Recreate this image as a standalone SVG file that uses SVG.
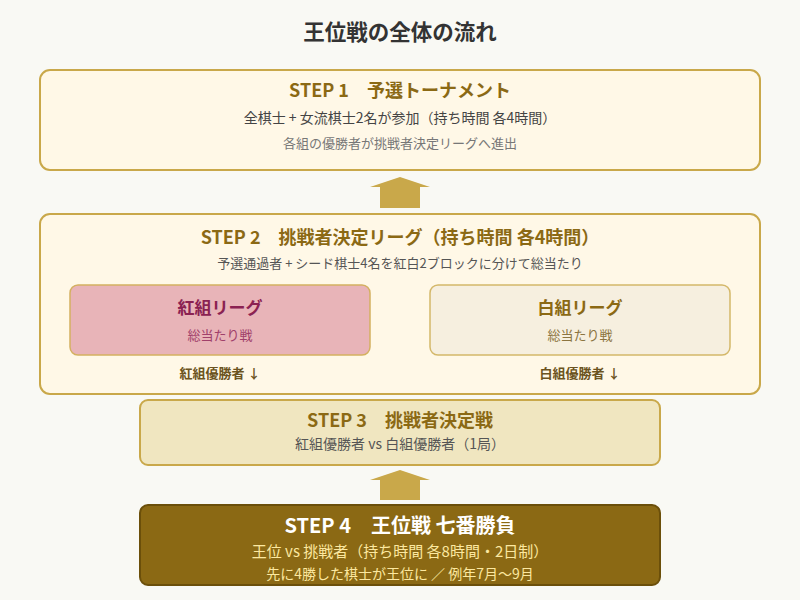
<svg xmlns="http://www.w3.org/2000/svg" width="800" height="600" viewBox="0 0 800 600">
<style>
text{font-family:"Noto Sans CJK JP","Noto Sans",sans-serif;text-anchor:middle}
.box{fill:#fff8e7;stroke:#c9a84a;stroke-width:2}
.st{font-size:18px;font-weight:bold;fill:#8b6914}
.sub{font-size:14px;fill:#444}
.note{font-size:13px;fill:#777}
.arrow{fill:#c9a84a}
</style>
<rect width="800" height="600" fill="#f9f9f4"/>
<text x="400" y="40" style="font-size:21.5px;font-weight:bold;fill:#333">王位戦の全体の流れ</text>
<g id="connectors">
<polygon class="arrow" points="400,177 430,187 420,187 420,208 380,208 380,187 370,187"/>
<polygon class="arrow" points="400,470 430,480 420,480 420,500 380,500 380,480 370,480"/>
</g>
<g id="step1">
<rect class="box" x="40" y="70" width="720" height="100" rx="10"/>
<text class="st" x="400" y="97">STEP 1　予選トーナメント</text>
<text class="sub" x="400" y="123">全棋士 + 女流棋士2名が参加（持ち時間 各4時間）</text>
<text class="note" x="400" y="147.5">各組の優勝者が挑戦者決定リーグへ進出</text>
</g>
<g id="step2">
<rect class="box" x="40" y="214" width="720" height="180" rx="10"/>
<text class="st" x="400" y="244">STEP 2　挑戦者決定リーグ（持ち時間 各4時間）</text>
<text class="note" x="400" y="268" style="fill:#555">予選通過者 + シード棋士4名を紅白2ブロックに分けて総当たり</text>
<text x="220" y="377.5" style="font-size:13px;font-weight:bold;fill:#6b5320">紅組優勝者 ↓</text>
<text x="580" y="377.5" style="font-size:13px;font-weight:bold;fill:#6b5320">白組優勝者 ↓</text>
</g>
<g id="red-league">
<rect x="70" y="285" width="300" height="70" rx="8" fill="#e8b4b8" stroke="#d4b060" stroke-width="1.5"/>
<text x="220" y="314" style="font-size:17px;font-weight:bold;fill:#8b2252">紅組リーグ</text>
<text x="220" y="339.5" style="font-size:13px;fill:#a0406a">総当たり戦</text>
</g>
<g id="white-league">
<rect x="430" y="285" width="300" height="70" rx="8" fill="#f6efdf" stroke="#d4b86a" stroke-width="1.5"/>
<text x="580" y="314" style="font-size:17px;font-weight:bold;fill:#8b6914">白組リーグ</text>
<text x="580" y="339.5" style="font-size:13px;fill:#8b7440">総当たり戦</text>
</g>
<g id="step3">
<rect x="140" y="400" width="520" height="65" rx="8" fill="#f0e6c0" stroke="#c9a84a" stroke-width="2"/>
<text class="st" x="400" y="427">STEP 3　挑戦者決定戦</text>
<text class="sub" x="400" y="449" style="fill:#555">紅組優勝者 vs 白組優勝者（1局）</text>
</g>
<g id="step4">
<rect x="140" y="505" width="520" height="80" rx="8" fill="#8b6914" stroke="#6b4f0a" stroke-width="2"/>
<text x="400" y="533" style="font-size:20px;font-weight:bold;fill:#fff">STEP 4　王位戦 七番勝負</text>
<text x="400" y="557" style="font-size:15px;fill:#fce8a0">王位 vs 挑戦者（持ち時間 各8時間・2日制）</text>
<text x="400" y="579" style="font-size:14px;fill:#fce8a0">先に4勝した棋士が王位に ／ 例年7月〜9月</text>
</g>
</svg>
